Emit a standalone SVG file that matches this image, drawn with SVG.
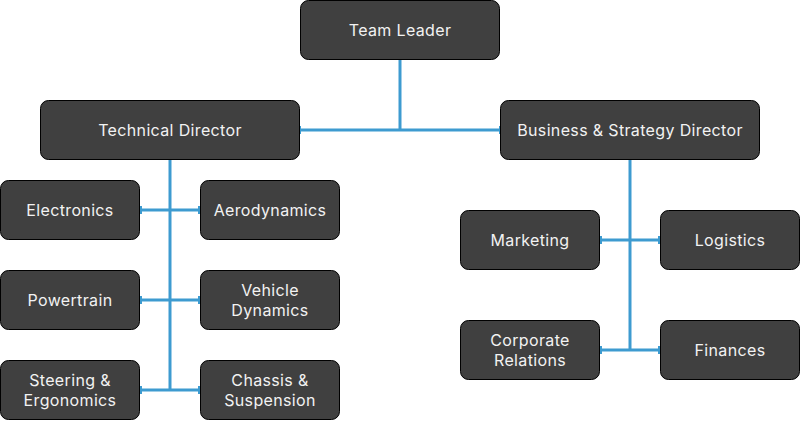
<svg xmlns="http://www.w3.org/2000/svg" width="801" height="421" viewBox="0 0 801 421">
<style>
.box{fill:#404040;stroke:#000;stroke-width:1}
.t{font-family:Inter,"Open Sans","Liberation Sans",sans-serif;font-size:16px;letter-spacing:0.35px;fill:#f2f2f2;text-anchor:middle;dominant-baseline:central}
.c{fill:none;stroke:#3d9bd0;stroke-width:3}
</style>
<defs>
<marker id="tick" viewBox="0 0 2 8" refX="1" refY="4" markerWidth="2" markerHeight="8" markerUnits="userSpaceOnUse" orient="auto">
<rect x="0" y="0" width="2" height="8" fill="#3d9bd0"/>
</marker>
</defs>
<g id="connectors">
<path class="c" d="M400,60 V130"/>
<path class="c" d="M300,130 H500" marker-start="url(#tick)" marker-end="url(#tick)"/>
<path class="c" d="M170,160 V390"/>
<path class="c" d="M141,210 H199" marker-start="url(#tick)" marker-end="url(#tick)"/>
<path class="c" d="M141,300 H199" marker-start="url(#tick)" marker-end="url(#tick)"/>
<path class="c" d="M141,390 H199" marker-start="url(#tick)" marker-end="url(#tick)"/>
<path class="c" d="M630,160 V350"/>
<path class="c" d="M601,240 H659" marker-start="url(#tick)" marker-end="url(#tick)"/>
<path class="c" d="M601,350 H659" marker-start="url(#tick)" marker-end="url(#tick)"/>
</g>
<g id="team-leader"><rect class="box" x="300.5" y="0.5" width="199" height="59" rx="8"/><text class="t" x="400" y="30">Team Leader</text></g>
<g id="technical-director"><rect class="box" x="40.5" y="100.5" width="259" height="59" rx="8"/><text class="t" x="170" y="130">Technical Director</text></g>
<g id="business-director"><rect class="box" x="500.5" y="100.5" width="259" height="59" rx="8"/><text class="t" x="630" y="130">Business &amp; Strategy Director</text></g>
<g id="electronics"><rect class="box" x="0.5" y="180.5" width="139" height="59" rx="8"/><text class="t" x="70" y="210">Electronics</text></g>
<g id="aerodynamics"><rect class="box" x="200.5" y="180.5" width="139" height="59" rx="8"/><text class="t" x="270" y="210">Aerodynamics</text></g>
<g id="powertrain"><rect class="box" x="0.5" y="270.5" width="139" height="59" rx="8"/><text class="t" x="70" y="300">Powertrain</text></g>
<g id="vehicle-dynamics"><rect class="box" x="200.5" y="270.5" width="139" height="59" rx="8"/><text class="t" x="270" y="290">Vehicle</text><text class="t" x="270" y="310">Dynamics</text></g>
<g id="steering"><rect class="box" x="0.5" y="360.5" width="139" height="59" rx="8"/><text class="t" x="70" y="380">Steering &amp;</text><text class="t" x="70" y="400">Ergonomics</text></g>
<g id="chassis"><rect class="box" x="200.5" y="360.5" width="139" height="59" rx="8"/><text class="t" x="270" y="380">Chassis &amp;</text><text class="t" x="270" y="400">Suspension</text></g>
<g id="marketing"><rect class="box" x="460.5" y="210.5" width="139" height="59" rx="8"/><text class="t" x="530" y="240">Marketing</text></g>
<g id="logistics"><rect class="box" x="660.5" y="210.5" width="139" height="59" rx="8"/><text class="t" x="730" y="240">Logistics</text></g>
<g id="corporate-relations"><rect class="box" x="460.5" y="320.5" width="139" height="59" rx="8"/><text class="t" x="530" y="340">Corporate</text><text class="t" x="530" y="360">Relations</text></g>
<g id="finances"><rect class="box" x="660.5" y="320.5" width="139" height="59" rx="8"/><text class="t" x="730" y="350">Finances</text></g>
</svg>
